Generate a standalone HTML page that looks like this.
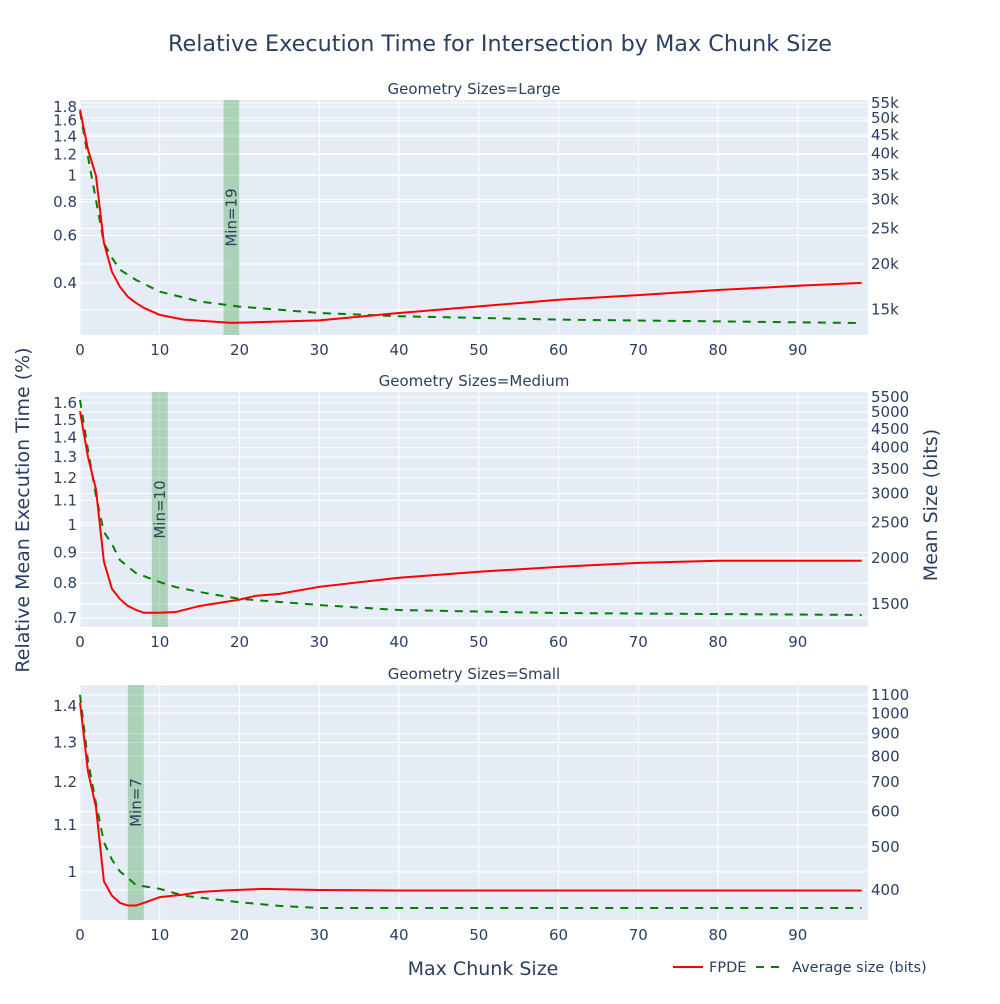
<!DOCTYPE html>
<html><head><meta charset="utf-8"><style>
body{margin:0;background:#fff;font-family:"DejaVu Sans","Liberation Sans",sans-serif;}
svg text{font-family:"DejaVu Sans","Liberation Sans",sans-serif;fill:#2a3f5f;}
</style></head><body>
<svg id="chart" width="1000" height="1000">
<text x="500" y="51" text-anchor="middle" font-size="22.3">Relative Execution Time for Intersection by Max Chunk Size</text>
<text x="483" y="975" text-anchor="middle" font-size="19">Max Chunk Size</text>
<text transform="translate(29,510) rotate(-90)" text-anchor="middle" font-size="19">Relative Mean Execution Time (%)</text>
<text transform="translate(937,505) rotate(-90)" text-anchor="middle" font-size="19">Mean Size (bits)</text>
<g>
<g><line x1="673" y1="967" x2="703" y2="967" stroke="#ff0000" stroke-width="2"/><text x="709" y="972" font-size="14.5">FPDE</text></g>
<g><line x1="756" y1="967" x2="786" y2="967" stroke="#008000" stroke-width="2" stroke-dasharray="8,7"/><text x="792" y="972" font-size="14.5">Average size (bits)</text></g>
</g>
</svg>
<script>
// Large
const largeRedX = [0,1,2,3,4,5,6,7,8,10,13,19,30,40,50,60,70,80,90,98];
const largeRed = [1.76,1.25,1.0,0.563,0.44,0.387,0.355,0.337,0.323,0.304,0.292,0.284,0.29,0.309,0.327,0.346,0.36,0.376,0.39,0.4];
const largeGreenX = [0,1,2,3,4,5,7,10,15,20,30,40,60,98];
const largeGreen = [52000,39200,29900,22800,20800,19300,18100,16800,15800,15300,14700,14400,14100,13800];
// Medium
const medRedX = [0,1,2,3,4,5,6,7,8,10,12,15,20,22,25,30,40,50,60,70,80,98];
const medRed = [1.55,1.30,1.148,0.869,0.783,0.753,0.733,0.722,0.714,0.714,0.716,0.733,0.751,0.762,0.768,0.789,0.817,0.836,0.852,0.865,0.872,0.872];
const medGreenX = [0,1,2,3,4,5,7,10,12,15,20,30,40,60,98];
const medGreen = [5400,3950,2955,2357,2186,1977,1822,1721,1668,1617,1549,1490,1444,1417,1400];
// Small
const smallRedX = [0,1,2,3,4,5,6,7,8,10,13,15,18,23,30,40,60,98];
const smallRed = [1.41,1.226,1.141,0.981,0.953,0.939,0.934,0.934,0.939,0.950,0.955,0.960,0.963,0.966,0.964,0.963,0.963,0.963];
const smallGreenX = [0,1,2,3,4,5,6,7,10,13,20,25,30,98];
const smallGreen = [1100,782,627,512,468,440,426,410,402,388,375,368,364,364];
// ticks
const xTicks = [0,10,20,30,40,50,60,70,80,90];
const largeLeftTicks = [0.4,0.6,0.8,1,1.2,1.4,1.6,1.8];
const largeRightTicks = [15000,20000,25000,30000,35000,40000,45000,50000,55000];
const medLeftTicks = [0.7,0.8,0.9,1,1.1,1.2,1.3,1.4,1.5,1.6];
const medRightTicks = [1500,2000,2500,3000,3500,4000,4500,5000,5500];
const smallLeftTicks = [1,1.1,1.2,1.3,1.4];
const smallRightTicks = [400,500,600,700,800,900,1000,1100];
const minLarge = 19, minMed = 10, minSmall = 7;

const svg = document.getElementById('chart');
const NS = 'http://www.w3.org/2000/svg';
function mk(tag, attrs, parent){const e=document.createElementNS(NS,tag);for(const k in attrs)e.setAttribute(k,attrs[k]);(parent||svg).appendChild(e);return e;}
const X0=80, X1=868, XMAX=98.8;
function xScale(v){return X0+(X1-X0)*v/XMAX;}
function logScale(lo,hi,top,bot){const a=Math.log10(lo),b=Math.log10(hi);return v=>bot-(Math.log10(v)-a)/(b-a)*(bot-top);}
function fmtK(v){return v>=10000?(v/1000)+'k':String(v);}

function panel(name,title,top,bot,lRange,rRange,lTicks,rTicks,rx,ry,gx,gy,minV){
  const g=mk('g',{});
  
  
  const bg=mk('rect',{x:X0,y:top,width:X1-X0,height:bot-top,fill:'#e5ecf6'},g);
  
  
  const ly=logScale(lRange[0],lRange[1],top,bot), ry2=logScale(rRange[0],rRange[1],top,bot);
  rTicks.forEach(t=>{const y=ry2(t);mk('line',{x1:X0,x2:X1,y1:y,y2:y,stroke:'#fff','stroke-width':1},g);
    const tx=mk('text',{x:871,y:y+5,'font-size':15},g);tx.textContent=fmtK(t);
    
    });
  lTicks.forEach(t=>{const y=ly(t);mk('line',{x1:X0,x2:X1,y1:y,y2:y,stroke:'#fff','stroke-width':1},g);
    const tx=mk('text',{x:77,y:y+5,'font-size':15,'text-anchor':'end'},g);tx.textContent=String(t);
    
    });
  xTicks.forEach(t=>{const x=xScale(t);mk('line',{x1:x,x2:x,y1:top,y2:bot,stroke:'#fff','stroke-width':1},g);
    const tx=mk('text',{x:x,y:bot+20,'font-size':15,'text-anchor':'middle'},g);tx.textContent=String(t);
    
    });
  const band=mk('rect',{x:xScale(minV-1),y:top,width:xScale(minV+1)-xScale(minV-1),height:bot-top,fill:'#008000','fill-opacity':0.25},g);
  
  
  const bx=(xScale(minV-1)+xScale(minV+1))/2+5;
  const bt=mk('text',{transform:`translate(${bx},${(top+bot)/2}) rotate(-90)`,'font-size':15,'text-anchor':'middle'},g);
  bt.textContent='Min='+minV;
  
  
  const gp=mk('polyline',{points:gx.map((v,i)=>xScale(v)+','+ry2(gy[i])).join(' '),fill:'none',stroke:'#008000','stroke-width':2,'stroke-dasharray':'8,7'},g);
  
  
  const rp=mk('polyline',{points:rx.map((v,i)=>xScale(v)+','+ly(ry[i])).join(' '),fill:'none',stroke:'#ff0000','stroke-width':2},g);
  
  
  const st=mk('text',{x:(X0+X1)/2,y:top-6,'font-size':15,'text-anchor':'middle'},g);
  st.textContent=title;
  
  
}
panel('large','Geometry Sizes=Large',100,335,[0.256,1.91],[12800,56000],largeLeftTicks,largeRightTicks,largeRedX,largeRed,largeGreenX,largeGreen,minLarge);
panel('medium','Geometry Sizes=Medium',392,627,[0.676,1.669],[1298,5676],medLeftTicks,medRightTicks,medRedX,medRed,medGreenX,medGreen,minMed);
panel('small','Geometry Sizes=Small',685,920,[0.907,1.461],[342,1158],smallLeftTicks,smallRightTicks,smallRedX,smallRed,smallGreenX,smallGreen,minSmall);
</script>
</body></html>
